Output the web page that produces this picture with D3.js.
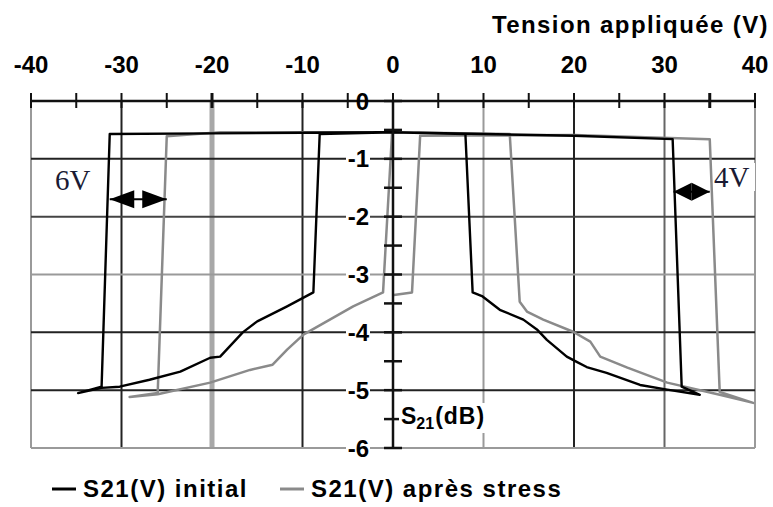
<!DOCTYPE html>
<html>
<head>
<meta charset="utf-8">
<script src="https://d3js.org/d3.v7.min.js"></script>
<style>
  body { margin: 0; background: white; }
  text { font-family: Arial, 'Liberation Sans', sans-serif; }
  text.serif { font-family: 'Liberation Serif', 'Times New Roman', serif; }
</style>
</head>
<body>
<svg width="773" height="507"></svg>
<script>
// tick labels
const xLabels = [-40, -30, -20, -10, 0, 10, 20, 30, 40];
const yLabels = [0, -1, -2, -3, -4, -5, -6];
const gridV = [-40, -30, -20, -10, 10, 20, 30, 40];
const gridH = [-1, -2, -3, -4, -5, -6];

// S21(V) initial : hysteresis loop
const initialV  = [0, 10, 20, 30.9, 31.9, 33.9, 30.3, 27.3, 23.6, 21.4, 20.3, 19.2, 17.0, 15.9, 14.4, 11.8, 9.9, 8.8, 8.0,
                   0, -10, -20, -31.3, -32.2, -34.8, -32.2, -30.2, -26.9, -23.5, -20.2, -19.1, -16.6, -15.0, -11.7, -8.8, -8.1, 0];
const initialDb = [-0.54, -0.57, -0.6, -0.66, -4.94, -5.08, -4.99, -4.91, -4.7, -4.6, -4.51, -4.42, -4.13, -3.95, -3.78, -3.61, -3.38, -3.31, -0.57,
                   -0.54, -0.55, -0.56, -0.57, -4.94, -5.05, -4.96, -4.94, -4.82, -4.68, -4.44, -4.42, -4.0, -3.81, -3.55, -3.31, -0.57, -0.54];

// S21(V) après stress
const stressV  = [-0.1, 2.1, 3.0, 20, 35.0, 36.1, 39.8, 36.1, 30.3, 25.9, 22.9, 21.8, 19.9, 16.6, 14.8, 14.0, 12.9,
                  0, -19.1, -25.0, -26.0, -29.1, -26.0, -20.2, -15.8, -13.3, -11.7, -9.9, -4.4, -1.1, -0.1];
const stressDb = [-3.36, -3.31, -0.6, -0.59, -0.66, -5.03, -5.22, -5.08, -4.87, -4.61, -4.42, -4.16, -3.99, -3.78, -3.64, -3.47, -0.57,
                  -0.54, -0.54, -0.61, -5.05, -5.12, -5.07, -4.87, -4.65, -4.56, -4.3, -4.04, -3.55, -3.31, -0.54];

// annotations: [label, from V, to V, level dB]
const shifts = [["6V", -31.3, -25.0, -1.7], ["4V", 31.0, 35.0, -1.57]];

const svg = d3.select('svg');
const x = d3.scaleLinear().domain([-40, 40]).range([31, 755]);
const y = d3.scaleLinear().domain([0, -6]).range([101, 448]);

const gridColV = {'-40': '#9a9a9a', '-30': '#222', '-20': '#a8a8a8', '-10': '#222', '10': '#9a9a9a', '20': '#222', '30': '#666', '40': '#9a9a9a'};
const gridColH = {'-1': '#222', '-2': '#444', '-3': '#9a9a9a', '-4': '#222', '-5': '#222', '-6': '#9a9a9a'};

// grid
svg.append('g').selectAll('line').data(gridV).enter().append('line')
  .attr('x1', d => x(d)).attr('x2', d => x(d))
  .attr('y1', y(0)).attr('y2', y(-6))
  .attr('stroke', d => gridColV[d])
  .attr('stroke-width', d => d == -20 ? 5 : 2);
svg.append('g').selectAll('line').data(gridH).enter().append('line')
  .attr('x1', x(-40)).attr('x2', x(40))
  .attr('y1', d => y(d)).attr('y2', d => y(d))
  .attr('stroke', d => gridColH[d])
  .attr('stroke-width', 2);

// curves
const line = d3.line().x(d => x(d[0])).y(d => y(d[1]));
svg.append('path').datum(d3.zip(stressV, stressDb))
  .attr('d', line).attr('fill', 'none').attr('stroke', '#8a8a8a').attr('stroke-width', 2.5)
  .attr('stroke-linejoin', 'round');
svg.append('path').datum(d3.zip(initialV, initialDb))
  .attr('d', line).attr('fill', 'none').attr('stroke', '#000').attr('stroke-width', 2.4)
  .attr('stroke-linejoin', 'round');

// top axis
const axTop = svg.append('g');
axTop.append('line').attr('x1', x(-40)).attr('x2', x(40)).attr('y1', y(0)).attr('y2', y(0))
  .attr('stroke', '#111').attr('stroke-width', 2.5);
axTop.selectAll('.tk').data(d3.range(-40, 41, 5)).enter().append('line')
  .attr('x1', d => x(d)).attr('x2', d => x(d))
  .attr('y1', y(0) - 8).attr('y2', y(0) + 7)
  .attr('stroke', '#111').attr('stroke-width', d => d == 35 || d == -20 ? 3 : 2);
axTop.selectAll('text').data(xLabels).enter().append('text')
  .attr('x', d => x(d)).attr('y', 73)
  .attr('text-anchor', 'middle')
  .attr('font-size', 24).attr('font-weight', 'bold')
  .text(d => d);
svg.append('text').attr('x', 769).attr('y', 33).attr('text-anchor', 'end')
  .attr('font-size', 24).attr('font-weight', 'bold').attr('letter-spacing', 1.4)
  .text('Tension appliquée (V)');

// vertical axis
const axLeft = svg.append('g');
axLeft.selectAll('rect').data(yLabels.slice(1)).enter().append('rect')
  .attr('x', 346).attr('y', d => y(d) - 11).attr('width', 24).attr('height', 22).attr('fill', 'white');
axLeft.append('line').attr('x1', x(0)).attr('x2', x(0)).attr('y1', y(0)).attr('y2', y(-6))
  .attr('stroke', '#111').attr('stroke-width', 2.5);
axLeft.selectAll('.tk').data(d3.range(0, -6.01, -0.5)).enter().append('line')
  .attr('x1', x(0) - 9).attr('x2', x(0) + 9)
  .attr('y1', d => y(d)).attr('y2', d => y(d))
  .attr('stroke', '#111').attr('stroke-width', 2.5);
axLeft.selectAll('text').data(yLabels).enter().append('text')
  .attr('x', 369).attr('y', d => y(d)).attr('dy', '0.36em')
  .attr('text-anchor', 'end')
  .attr('font-size', 24).attr('font-weight', 'bold')
  .text(d => d);

// S21(dB) label
svg.append('rect').attr('x', 399).attr('y', 403).attr('width', 98).attr('height', 30).attr('fill', 'white');
const s21 = svg.append('text').attr('x', 401).attr('y', 424).attr('font-size', 23).attr('font-weight', 'bold');
s21.append('tspan').text('S');
s21.append('tspan').attr('font-size', 16).attr('dy', 5).text('21');
s21.append('tspan').attr('dy', -5).attr('dx', 1).attr('letter-spacing', 1).text('(dB)');

// shift annotations
const ann = svg.append('g');
shifts.forEach(function (s) {
  const x1 = x(s[1]), x2 = x(s[2]), yy = y(s[3]);
  const mid = (x1 + x2) / 2;
  const gap = s[0] == '6V' ? 4 : 0;
  ann.append('line').attr('x1', x1).attr('x2', x2).attr('y1', yy).attr('y2', yy)
    .attr('stroke', '#000').attr('stroke-width', 2);
  ann.append('path')
    .attr('d', `M${x1},${yy} L${mid - gap},${yy - 9} L${mid - gap},${yy + 9} Z`)
    .attr('fill', '#000');
  ann.append('path')
    .attr('d', `M${x2},${yy} L${mid + gap},${yy - 9} L${mid + gap},${yy + 9} Z`)
    .attr('fill', '#000');
});
svg.append('text').attr('class', 'serif').attr('x', 55).attr('y', 190)
  .attr('font-size', 29).attr('fill', '#1a1a33').text(shifts[0][0]);
svg.append('rect').attr('x', 713).attr('y', 163).attr('width', 42).attr('height', 28).attr('fill', 'white');
svg.append('text').attr('class', 'serif').attr('x', 714).attr('y', 187)
  .attr('font-size', 29).attr('fill', '#1a1a33').text(shifts[1][0]);

// legend
const legend = [['S21(V) initial', '#000', 52], ['S21(V) après stress', '#8a8a8a', 280]];
const lg = svg.append('g').selectAll('g').data(legend).enter().append('g');
lg.append('line').attr('x1', d => d[2]).attr('x2', d => d[2] + 24)
  .attr('y1', 489).attr('y2', 489).attr('stroke', d => d[1]).attr('stroke-width', 3);
lg.append('text').attr('x', d => d[2] + 31).attr('y', 497)
  .attr('font-size', 24).attr('font-weight', 'bold').attr('letter-spacing', 1.5)
  .text(d => d[0]);
</script>
</body>
</html>
